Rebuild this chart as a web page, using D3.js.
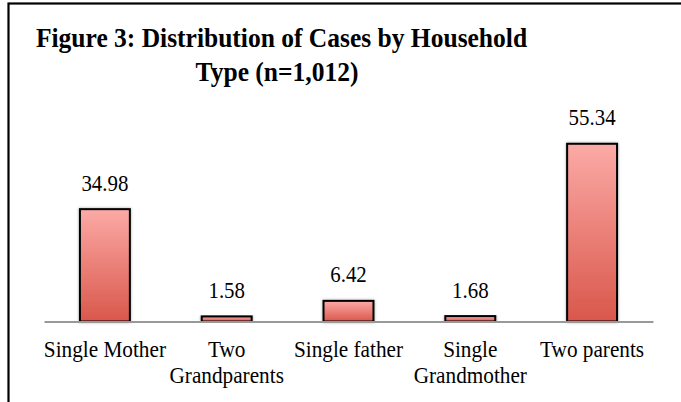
<!DOCTYPE html>
<html><head><meta charset="utf-8">
<script src="https://cdn.jsdelivr.net/npm/d3@7"></script>
<style>html,body{margin:0;padding:0;background:#fff;}svg{display:block;}</style>
</head><body>
<script>
const categories = [["Single Mother"], ["Two", "Grandparents"], ["Single father"], ["Single", "Grandmother"], ["Two parents"]];
const values = [34.98, 1.58, 6.42, 1.68, 55.34];
const valueLabels = ["34.98", "1.58", "6.42", "1.68", "55.34"];
const titleLines = ["Figure 3: Distribution of Cases by Household", "Type (n=1,012)"];
const yDomain = [0, 60];

const W = 681, H = 402;
const svg = d3.select("body").append("svg").attr("width", W).attr("height", H);
const defs = svg.append("defs");
const grad = defs.append("linearGradient").attr("id", "barGrad").attr("x1", 0).attr("y1", 0).attr("x2", 0).attr("y2", 1);
grad.append("stop").attr("offset", "0%").attr("stop-color", "#fcaaa6");
grad.append("stop").attr("offset", "100%").attr("stop-color", "#d9574b");
const filt = defs.append("filter").attr("id", "shadow").attr("x", "-20%").attr("y", "-20%").attr("width", "140%").attr("height", "140%");
filt.append("feGaussianBlur").attr("in", "SourceAlpha").attr("stdDeviation", 1.5);
filt.append("feComponentTransfer").append("feFuncA").attr("type", "linear").attr("slope", 0.35);
const fm = filt.append("feMerge");
fm.append("feMergeNode");
fm.append("feMergeNode").attr("in", "SourceGraphic");

// frame
svg.append("rect").attr("x", 8.5).attr("y", 3.5).attr("width", 800).attr("height", 500)
  .attr("fill", "none").attr("stroke", "#000").attr("stroke-width", 2.2);

const x = d3.scaleBand().domain(d3.range(categories.length)).range([44, 653])
  .paddingInner(0.59).paddingOuter(0.295);
const y = d3.scaleLinear().domain(yDomain).range([321.5, 128.8]);

const FONT = "'Liberation Serif','Times New Roman',serif";
function ctext(g, cx, cy, str, size, weight, sx) {
  return g.append("text")
    .attr("transform", `translate(${cx},${cy}) scale(${sx},1)`)
    .attr("text-anchor", "middle")
    .style("font-family", FONT)
    .style("font-size", size + "px")
    .style("font-weight", weight)
    .attr("fill", "#000")
    .text(str);
}

// title
const tg = svg.append("g");
ctext(tg, 281.5, 46.5, titleLines[0], 27, "bold", 0.945);
ctext(tg, 277, 80.5, titleLines[1], 27, "bold", 0.945);

// bars
svg.append("g").selectAll("rect").data(values).join("rect")
  .attr("x", (d, i) => x(i))
  .attr("y", d => y(d))
  .attr("width", x.bandwidth())
  .attr("height", d => y(0) - y(d))
  .attr("fill", "url(#barGrad)")
  .attr("stroke", "#000").attr("stroke-width", 2)
  .attr("filter", "url(#shadow)");

// axis line
const axis = d3.axisBottom(x).tickSize(0).tickFormat("");
const ag = svg.append("g").attr("transform", `translate(0,${y(0)})`).call(axis);
ag.select(".domain").attr("stroke", "#999").attr("stroke-width", 2);

// value labels
const vg = svg.append("g");
values.forEach((v, i) => ctext(vg, x(i) + x.bandwidth() / 2, y(v) - 18.5, valueLabels[i], 24, "normal", 0.87));

// category labels
const cg = svg.append("g");
categories.forEach((lines, i) => {
  lines.forEach((ln, j) => ctext(cg, x(i) + x.bandwidth() / 2, 356.7 + j * 26, ln, 24, "normal", 0.885));
});
</script>
</body></html>
